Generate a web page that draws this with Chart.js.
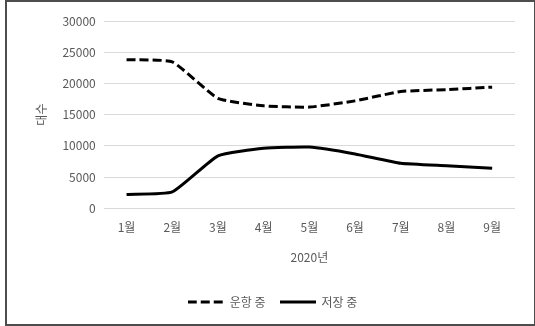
<!DOCTYPE html>
<html>
<head>
<meta charset="utf-8">
<script src="https://cdn.jsdelivr.net/npm/chart.js@4/dist/chart.umd.min.js"></script>
<style>
  html, body { margin: 0; padding: 0; background: #fff; }
  #wrap { position: relative; width: 535px; height: 326px; }
  #frame {
    position: absolute; left: 5px; top: 0; width: 527px; height: 322px;
    border: 2px solid #4d4d4d; pointer-events: none;
  }
  canvas { position: absolute; left: 0; top: 0; }
</style>
</head>
<body>
<div id="wrap">
  <canvas id="chart" width="535" height="326"></canvas>
  <div id="frame"></div>
</div>
<script>
// 월별 항공기 대수
const months = ['1월', '2월', '3월', '4월', '5월', '6월', '7월', '8월', '9월'];
const inService = [23800, 23450, 17600, 16400, 16200, 17200, 18700, 19000, 19400];
const inStorage = [2200, 2600, 8400, 9600, 9800, 8700, 7200, 6800, 6400];

const gray = '#595959';
const font = { family: "'Noto Sans CJK KR', 'Noto Sans', sans-serif", size: 12 };

// 범례용 선 모양 (점선 / 실선)
function lineSample(dash) {
    const c = document.createElement('canvas');
    c.width = 36;
    c.height = 4;
    const g = c.getContext('2d');
    g.strokeStyle = '#000';
    g.lineWidth = 3;
    g.setLineDash(dash);
    g.beginPath();
    g.moveTo(0, 2);
    g.lineTo(36, 2);
    g.stroke();
    return c;
}

new Chart(document.getElementById('chart').getContext('2d'), {
    type: 'line',
    data: {
        labels: months,
        datasets: [{
            label: '운항 중',
            data: inService,
            borderColor: '#000',
            backgroundColor: '#000',
            borderWidth: 3,
            borderDash: [9, 4],
            pointRadius: 0,
            pointStyle: lineSample([9, 4]),
            tension: 0.15,
            fill: false
        }, {
            label: '저장 중',
            data: inStorage,
            borderColor: '#000',
            backgroundColor: '#000',
            borderWidth: 3,
            pointRadius: 0,
            pointStyle: lineSample([]),
            tension: 0.15,
            fill: false
        }]
    },
    options: {
        responsive: false,
        animation: false,
        layout: { padding: { left: 30, right: 20, top: 21, bottom: 8 } },
        plugins: {
            tooltip: { enabled: false },
            legend: {
                position: 'bottom',
                labels: {
                    usePointStyle: true,
                    pointStyleWidth: 36,
                    color: gray,
                    font: font,
                    padding: 14
                }
            }
        },
        scales: {
            x: {
                offset: true,
                grid: { display: false },
                border: { display: false },
                ticks: { color: gray, font: font, padding: 4, maxRotation: 0 },
                title: { display: true, text: '2020년', color: gray, font: font, padding: { top: 12, bottom: 17 } }
            },
            y: {
                min: 0,
                max: 30000,
                grid: { color: '#d9d9d9', drawTicks: false },
                border: { display: false },
                ticks: {
                    stepSize: 5000, color: gray, font: font, padding: 8,
                    callback: v => String(v)
                },
                title: { display: true, text: '대수', color: gray, font: font, padding: { top: 4, bottom: 6 } }
            }
        }
    }
});
</script>
</body>
</html>
